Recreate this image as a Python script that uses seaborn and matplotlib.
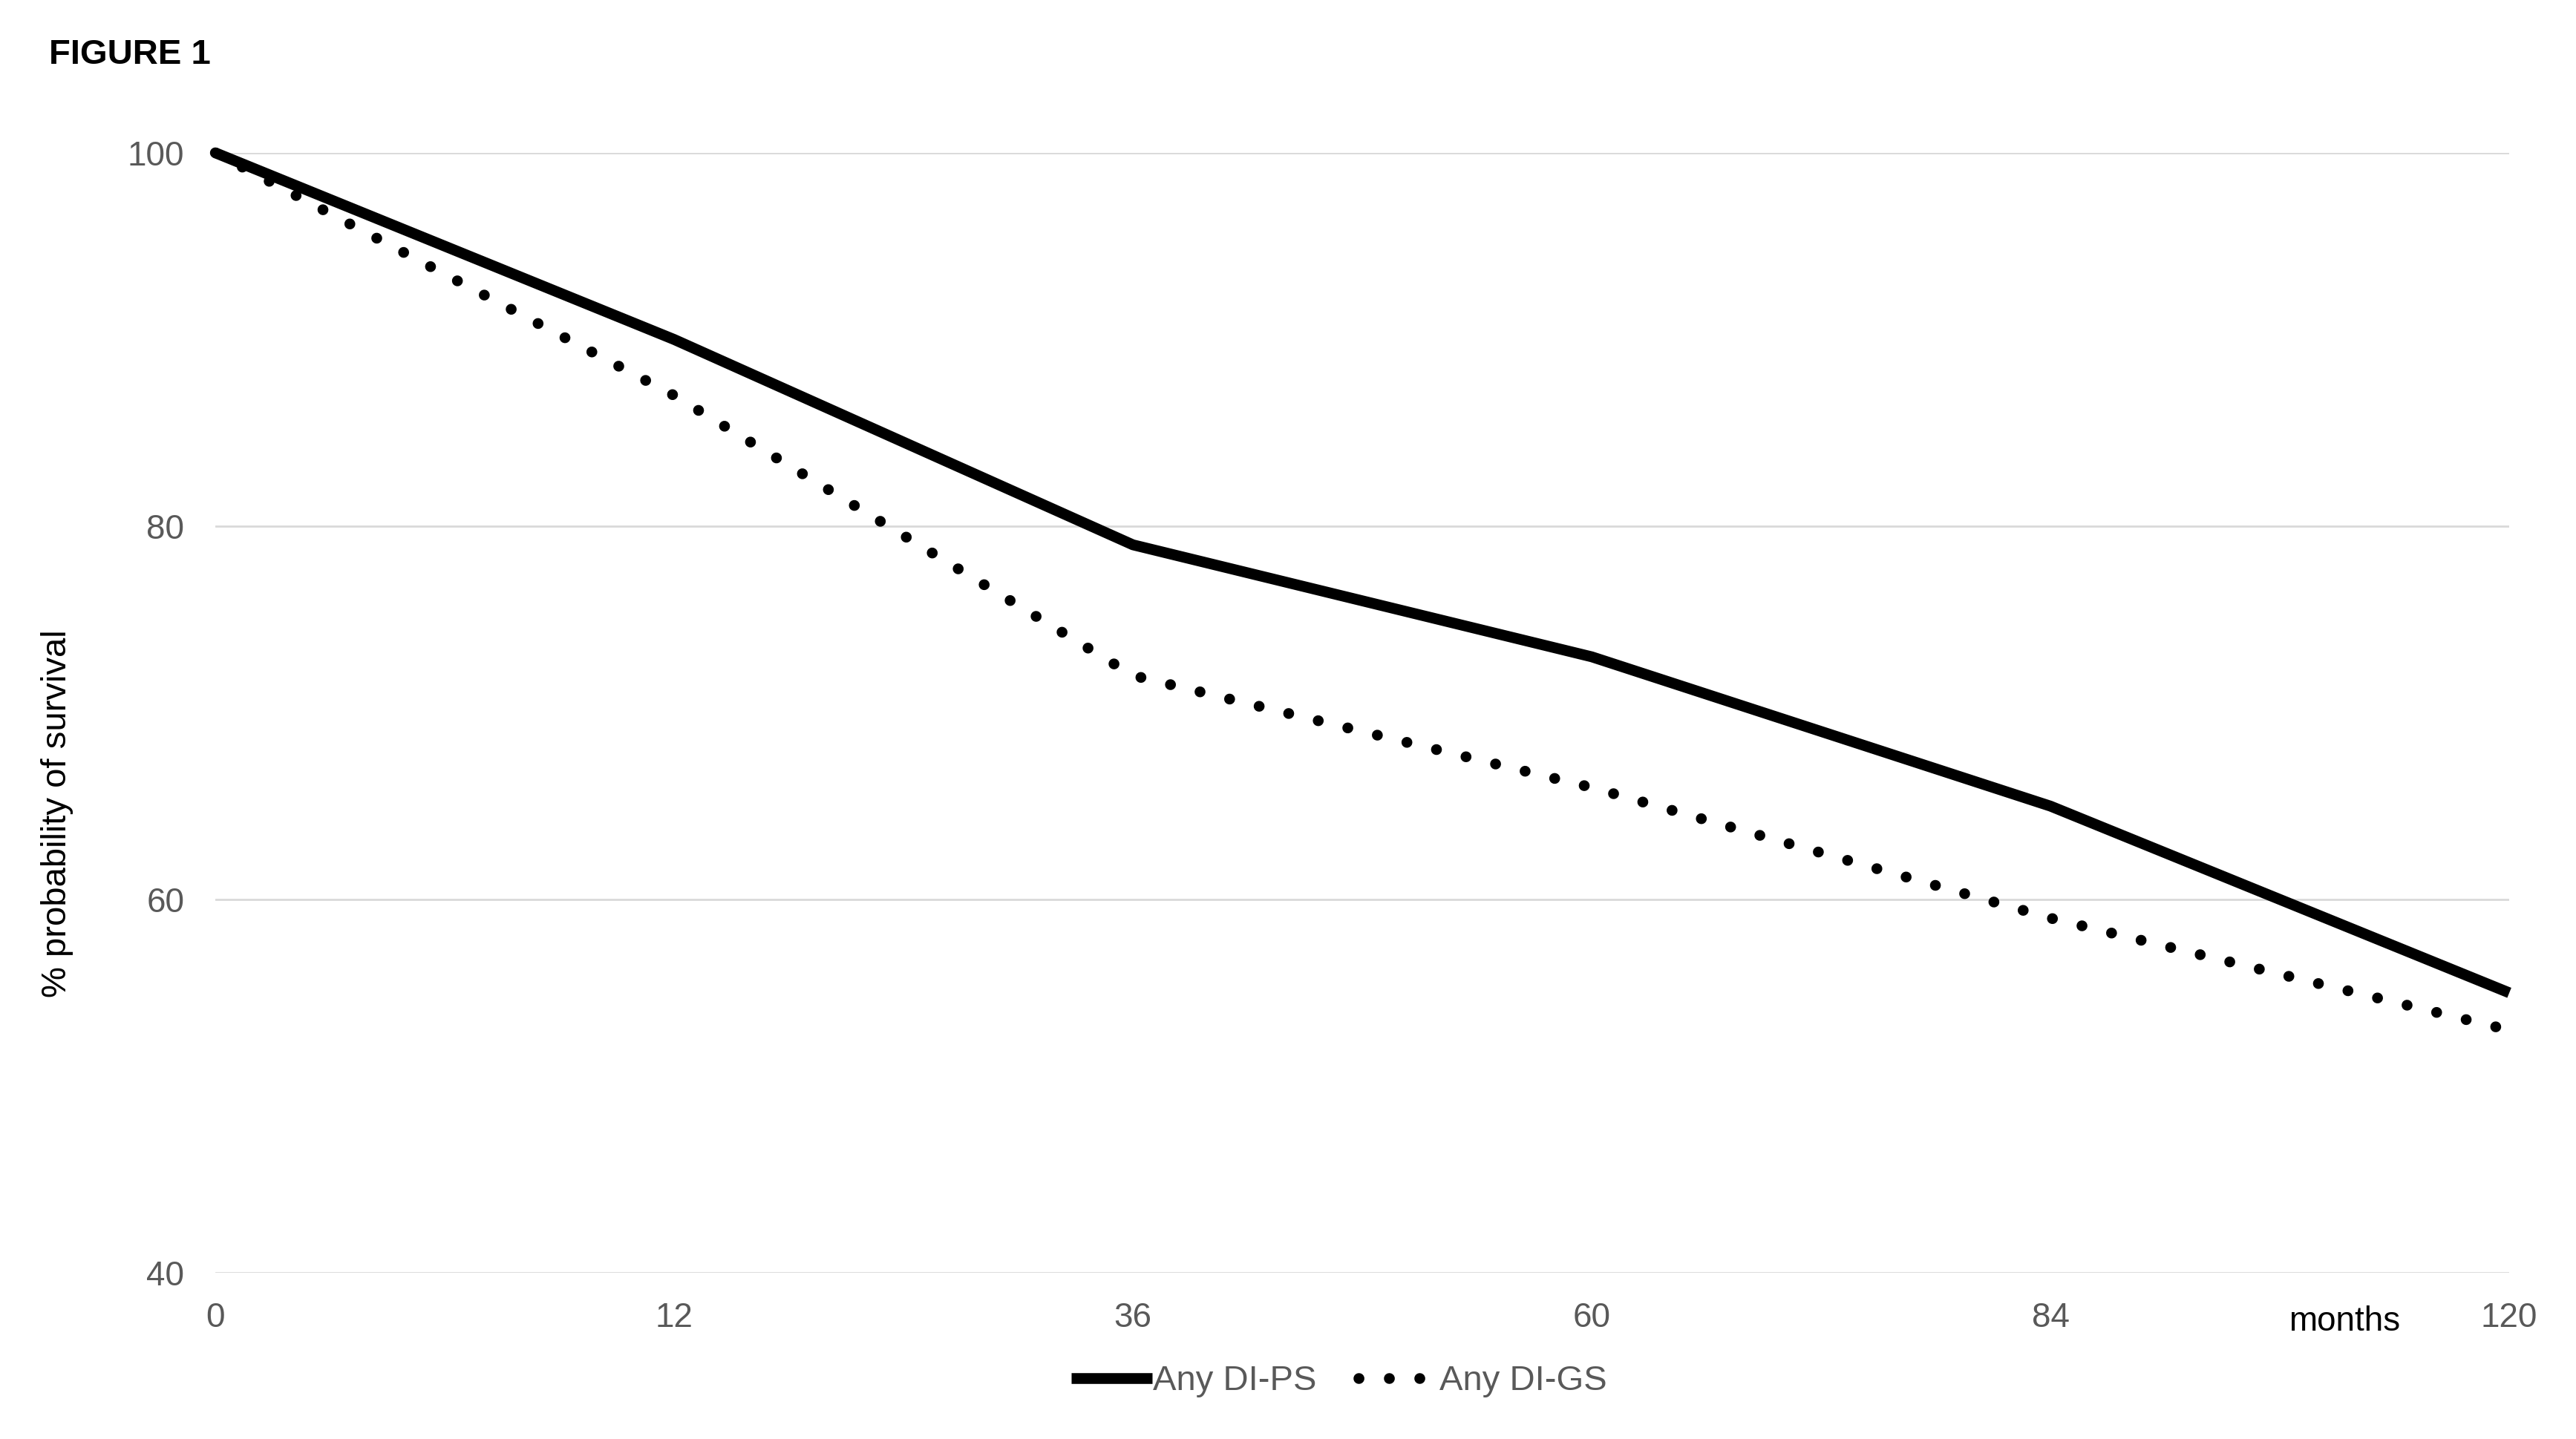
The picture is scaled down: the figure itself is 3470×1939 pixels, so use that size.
import pandas as pd
import seaborn as sns
import matplotlib.pyplot as plt

# values
months = ['0', '12', '36', '60', '84', '120']
any_di_ps = [100, 90, 79, 73, 65, 55]
any_di_gs = [100, 87, 72, 66, 59, 53]

df = pd.DataFrame({'months': months, 'ps': any_di_ps, 'gs': any_di_gs})

sns.set_theme(style="white")
plt.rcParams['font.family'] = ['Liberation Sans', 'DejaVu Sans']

fig = plt.figure(figsize=(34.7, 19.39), dpi=100)
ax = fig.add_axes([0.0836, 0.1155, 0.8905, 0.7783])

sns.lineplot(data=df, x='months', y='ps', ax=ax, color='black', lw=10.5,
             solid_capstyle='butt', label='Any DI-PS', clip_on=False, sort=False)
sns.lineplot(data=df, x='months', y='gs', ax=ax, color='black', lw=10.5,
             linestyle=(0, (0.01, 2.8)), dash_capstyle='round',
             label='Any DI-GS', clip_on=False, sort=False)

ax.set_xlim(0, 5)
ax.set_ylim(40, 100)
ax.set_yticks([40, 60, 80, 100])
ax.yaxis.grid(True, color='#d9d9d9', lw=2)
ax.xaxis.grid(False)
ax.set_axisbelow(True)
for s in ax.spines.values():
    s.set_visible(False)
ax.tick_params(axis='both', length=0, labelsize=33, colors='#595959')
ax.tick_params(axis='x', pad=28)
ax.tick_params(axis='y', pad=30)
ax.set_xlabel('')
ax.set_ylabel('% probability of survival', fontsize=34, color='black')
ax.yaxis.set_label_coords(-0.062, 0.41)

ax.text(0.928, -0.029, 'months', transform=ax.transAxes, fontsize=33,
        color='black', ha='center', va='top')

fig.text(0.019, 0.962, 'FIGURE 1', fontsize=34, fontweight='bold',
         color='black', ha='left', va='center')

leg = ax.legend(loc='center', bbox_to_anchor=(0.490, -0.097), ncol=2,
                frameon=False, fontsize=34, handlelength=2.3,
                handletextpad=0.02, columnspacing=1.2)
for t in leg.get_texts():
    t.set_color('#595959')

fig.savefig('out.png', dpi=100)
